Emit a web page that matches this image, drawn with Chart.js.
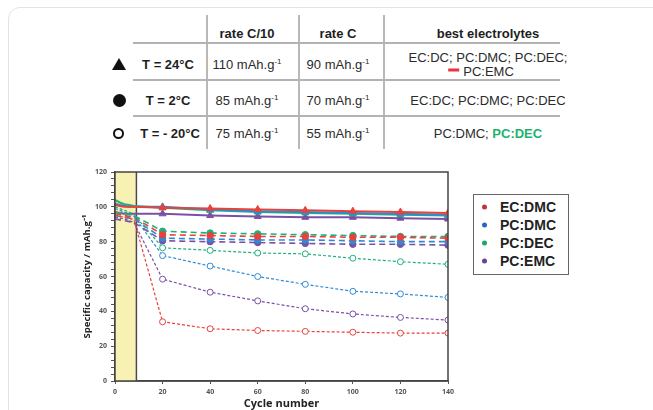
<!DOCTYPE html>
<html><head><meta charset="utf-8">
<script src="https://cdn.jsdelivr.net/npm/chart.js@4/dist/chart.umd.min.js"></script>
<style>
html,body{margin:0;padding:0;background:#fff;width:653px;height:410px;overflow:hidden;font-family:"Liberation Sans",Arial,sans-serif;}
#card{position:absolute;left:8px;top:7px;width:720px;height:460px;border:1px solid #dde3ef;border-radius:12px;box-sizing:border-box;}
.t{position:absolute;white-space:nowrap;font-size:13px;color:#2b2b2b;transform:translate(-50%,-50%);}
.b{font-weight:bold;color:#1e1e1e;}
.vl{position:absolute;width:1.5px;background:#b8b8b8;top:15px;height:134px;}
.hl{position:absolute;height:1.5px;background:#b3b3b3;left:133px;width:427px;}
sup{font-size:8px;vertical-align:5px;line-height:0;}
#chartwrap{position:absolute;left:60px;top:160px;width:400px;height:250px;}
#legend{position:absolute;left:473px;top:194px;width:96px;height:81px;border:1.5px solid #666;box-sizing:border-box;}
.li{position:absolute;left:26px;font-weight:bold;font-size:14px;color:#222;transform:translateY(-50%);white-space:nowrap;}
.dot{position:absolute;left:8px;width:5px;height:5px;border-radius:50%;transform:translateY(-50%);}
</style></head>
<body>
<div id="card"></div>

<div class="vl" style="left:206px"></div>
<div class="vl" style="left:298px"></div>
<div class="vl" style="left:383px"></div>
<div class="hl" style="top:42px"></div>
<div class="hl" style="top:79px"></div>
<div class="hl" style="top:115px"></div>

<div class="t b" style="left:247px;top:33px">rate C/10</div>
<div class="t b" style="left:338px;top:33px">rate C</div>
<div class="t b" style="left:488px;top:33px">best electrolytes</div>

<div style="position:absolute;left:112px;top:58px;width:0;height:0;border-left:7px solid transparent;border-right:7px solid transparent;border-bottom:12px solid #111;"></div>
<div class="t b" style="left:168px;top:64px">T = 24°C</div>
<div class="t" style="left:247px;top:64px">110 mAh.g<sup>-1</sup></div>
<div class="t" style="left:338px;top:64px">90 mAh.g<sup>-1</sup></div>
<div class="t" style="left:488px;top:57px">EC:DC; PC:DMC; PC:DEC;</div>
<div class="t" style="left:481px;top:71px"><span style="display:inline-block;width:11px;height:3px;background:#e8353f;vertical-align:4px;margin-right:4px"></span>PC:EMC</div>

<div style="position:absolute;left:113px;top:94px;width:13px;height:13px;border-radius:50%;background:#111;"></div>
<div class="t b" style="left:168px;top:100px">T = 2°C</div>
<div class="t" style="left:247px;top:100px">85 mAh.g<sup>-1</sup></div>
<div class="t" style="left:338px;top:100px">70 mAh.g<sup>-1</sup></div>
<div class="t" style="left:488px;top:100px">EC:DC; PC:DMC; PC:DEC</div>

<div style="position:absolute;left:113px;top:128px;width:11px;height:11px;border-radius:50%;border:2px solid #111;box-sizing:border-box;"></div>
<div class="t b" style="left:170px;top:133px">T = - 20°C</div>
<div class="t" style="left:247px;top:133px">75 mAh.g<sup>-1</sup></div>
<div class="t" style="left:338px;top:133px">55 mAh.g<sup>-1</sup></div>
<div class="t" style="left:488px;top:133px">PC:DMC; <b style="color:#1db36e">PC:DEC</b></div>

<div id="chartwrap"><canvas id="c" width="400" height="250"></canvas></div>

<div id="legend">
  <div class="dot" style="top:12px;background:#c0343a"></div><div class="li" style="top:12px">EC:DMC</div>
  <div class="dot" style="top:30px;background:#2e63c4"></div><div class="li" style="top:30px">PC:DMC</div>
  <div class="dot" style="top:48px;background:#17a86a"></div><div class="li" style="top:48px">PC:DEC</div>
  <div class="dot" style="top:66px;background:#6e3f98"></div><div class="li" style="top:66px">PC:EMC</div>
</div>

<script>
// ---- data ----
const cycles = [0, 2, 4, 6, 8, 20, 40, 60, 80, 100, 120, 140];
const bandStart = 0, bandEnd = 9;           // C/10 formation cycles (shaded)
const electrolytes = ['EC:DMC', 'PC:DMC', 'PC:DEC', 'PC:EMC'];
const temperatures = ['24°C', '2°C', '-20°C'];

// T = 24 °C
const ecdmc_24 = [101, 100.5, 100, 100, 100, 99.5, 99, 98.5, 98, 97.5, 97, 96.5];
const pcdmc_24 = [102, 101, 100.5, 100, 100, 100, 98.5, 97.5, 97, 96.5, 96, 95.5];
const pcdec_24 = [104, 102.5, 101.5, 101, 100.5, 99.5, 98, 97, 96.5, 96, 95.5, 95];
const pcemc_24 = [97, 96.5, 96, 96, 96, 96, 95, 94.5, 94, 94, 93.5, 93];
// T = 2 °C
const ecdmc_2 = [96, 95.5, 95, 94.5, 94, 84, 83.5, 83, 83, 82.5, 82.5, 82];
const pcdmc_2 = [95, 94.5, 94, 93.5, 93, 82, 81.5, 81, 81, 80.5, 80, 80];
const pcdec_2 = [97, 96.5, 96, 95.5, 95, 86, 85, 84.5, 84, 83.5, 83, 83];
const pcemc_2 = [93, 92.5, 92, 91.5, 91, 80.5, 80, 79.5, 79, 78.5, 78.5, 78];
// T = -20 °C
const ecdmc_m20 = [95, 94.5, 94, 93.5, 92.5, 34, 30, 29, 28.5, 28, 27.5, 27.5];
const pcdmc_m20 = [99, 98, 97, 96, 94.5, 72, 66, 60, 55.5, 51.5, 50, 48];
const pcdec_m20 = [100, 99, 98, 97, 95.5, 76.5, 75, 73.5, 73, 70.5, 68.5, 67];
const pcemc_m20 = [94, 93.5, 93, 92, 91, 58.5, 51, 46, 41.5, 38.5, 36.5, 35];

const yTickValues = [0, 20, 40, 60, 80, 100, 120];
const xTickValues = [0, 20, 40, 60, 80, 100, 120, 140];

// ---- styles ----
const lineColors = ['#e8423c', '#2f8ad6', '#1cb27a', '#7c4fa6'];
const tempStyle = {
  '24°C': {dash: [], width: 2, point: 'triangle', radius: 4, filled: true},
  '2°C': {dash: [6, 4], width: 1.6, point: 'circle', radius: 3.2, filled: true},
  '-20°C': {dash: [3, 2], width: 1.2, point: 'circle', radius: 3, filled: false}
};
const series = {
  '24°C': [ecdmc_24, pcdmc_24, pcdec_24, pcemc_24],
  '2°C': [ecdmc_2, pcdmc_2, pcdec_2, pcemc_2],
  '-20°C': [ecdmc_m20, pcdmc_m20, pcdec_m20, pcemc_m20]
};

const datasets = [];
temperatures.slice().reverse().forEach(t => {
  const st = tempStyle[t];
  series[t].forEach((vals, i) => {
    datasets.push({
      label: electrolytes[i] + ' ' + t,
      data: cycles.map((c, k) => ({x: c, y: vals[k]})),
      borderColor: lineColors[i],
      backgroundColor: st.filled ? lineColors[i] : '#ffffff',
      borderWidth: st.width,
      borderDash: st.dash,
      pointStyle: st.point,
      pointRadius: ctx => (cycles[ctx.dataIndex] < bandEnd ? 0 : st.radius),
      pointBorderWidth: 1,
      pointBorderColor: lineColors[i],
      pointBackgroundColor: st.filled ? lineColors[i] : '#ffffff',
      tension: 0,
      fill: false
    });
  });
});

const framePlugin = {
  id: 'frame',
  beforeDatasetsDraw(chart) {
    const {ctx, chartArea: a, scales: {x}} = chart;
    const x0 = x.getPixelForValue(bandStart), x1 = x.getPixelForValue(bandEnd);
    ctx.save();
    ctx.fillStyle = '#f7f2b4';
    ctx.fillRect(x0, a.top, x1 - x0, a.bottom - a.top);
    ctx.strokeStyle = '#4a4a4a';
    ctx.lineWidth = 1.5;
    ctx.beginPath();
    ctx.moveTo(x1, a.top);
    ctx.lineTo(x1, a.bottom);
    ctx.stroke();
    ctx.restore();
  },
  afterDraw(chart) {
    const {ctx, chartArea: a} = chart;
    ctx.save();
    ctx.strokeStyle = '#444';
    ctx.lineWidth = 1.5;
    ctx.strokeRect(a.left, a.top, a.right - a.left, a.bottom - a.top);
    ctx.restore();
  }
};

const tickFont = {family: 'Open Sans', weight: 'bold', size: 7};
new Chart(document.getElementById('c'), {
  type: 'line',
  data: {datasets},
  plugins: [framePlugin],
  options: {
    responsive: false,
    animation: false,
    devicePixelRatio: 1,
    layout: {padding: {top: 12, right: 12, left: 0, bottom: 0}},
    plugins: {legend: {display: false}, tooltip: {enabled: false}},
    scales: {
      x: {
        type: 'linear', min: 0, max: 140,
        afterBuildTicks: s => { s.ticks = xTickValues.map(v => ({value: v})); },
        ticks: {font: tickFont, color: '#555', padding: 4, maxRotation: 0, autoSkip: false},
        grid: {drawOnChartArea: false, tickLength: 3, color: '#555'},
        border: {color: '#444', width: 1.5},
        title: {display: true, text: 'Cycle number', font: {family: 'Open Sans', weight: 'bold', size: 11}, color: '#222', padding: 0},
        afterFit: s => { s.height = 29; }
      },
      y: {
        min: 0, max: 120,
        ticks: {stepSize: 4, autoSkip: false, font: tickFont, color: '#555', padding: 4,
          callback: v => (yTickValues.includes(v) ? v : '')},
        grid: {drawOnChartArea: false, tickLength: 4, color: '#555'},
        border: {color: '#444', width: 1.5},
        title: {display: true, text: 'Specific capacity / mAh.g⁻¹', font: {family: 'Open Sans', weight: 'bold', size: 9.5}, color: '#222', padding: {top: 22, bottom: 0}},
        afterFit: s => { s.width = 55; }
      }
    }
  }
});
</script>
</body></html>
